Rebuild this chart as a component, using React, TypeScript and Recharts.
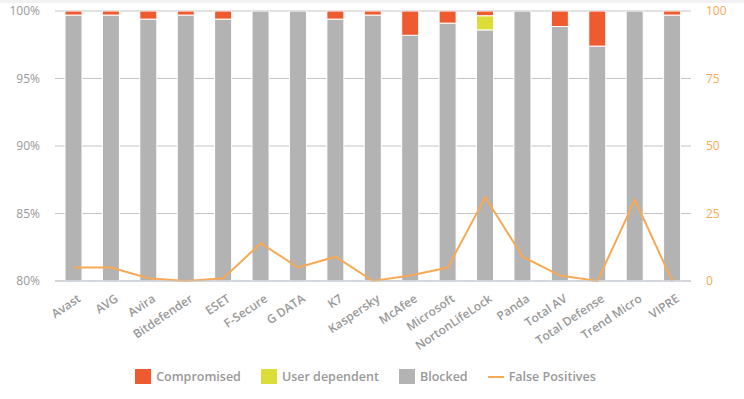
import {
  ComposedChart,
  Bar,
  Line,
  XAxis,
  YAxis,
  CartesianGrid,
  Legend,
} from 'recharts';

// vendors along the x axis
const vendors = [
  'Avast', 'AVG', 'Avira', 'Bitdefender', 'ESET', 'F-Secure', 'G DATA', 'K7',
  'Kaspersky', 'McAfee', 'Microsoft', 'NortonLifeLock', 'Panda', 'Total AV',
  'Total Defense', 'Trend Micro', 'VIPRE',
];

// percentages (left axis)
const blocked = [99.7, 99.7, 99.4, 99.7, 99.4, 100, 100, 99.4, 99.7, 98.2, 99.1, 98.6, 100, 98.85, 97.4, 100, 99.7];
const userDependent = [0, 0, 0, 0, 0, 0, 0, 0, 0, 0, 0, 1.05, 0, 0, 0, 0, 0];
const compromised = [0.3, 0.3, 0.6, 0.3, 0.6, 0, 0, 0.6, 0.3, 1.8, 0.9, 0.35, 0, 1.15, 2.6, 0, 0.3];

// counts (right axis)
const falsePositives = [5, 5, 1, 0, 1, 14, 5, 9, 0, 2, 5, 31, 9, 2, 0, 30, 0];

const leftTicks = [80, 85, 90, 95, 100];
const rightTicks = [0, 25, 50, 75, 100];

const data = vendors.map((name, i) => ({
  name,
  blocked: blocked[i],
  userDependent: userDependent[i],
  compromised: compromised[i],
  falsePositives: falsePositives[i],
}));

const FONT = '"Open Sans", sans-serif';
const C_COMP = '#ef5b30';
const C_USER = '#dcdd38';
const C_BLOCK = '#b3b3b3';
const C_FP = '#f7a955';

function VendorTick({ x, y, payload }: any) {
  return (
    <text
      x={x}
      y={y}
      dy={14}
      textAnchor="end"
      transform={`rotate(-34, ${x}, ${y})`}
      fontSize={12}
      fontWeight={600}
      fill="#999"
      fontFamily={FONT}
    >
      {payload.value}
    </text>
  );
}

const legendItems = [
  { label: 'Compromised', color: C_COMP, kind: 'box' },
  { label: 'User dependent', color: C_USER, kind: 'box' },
  { label: 'Blocked', color: C_BLOCK, kind: 'box' },
  { label: 'False Positives', color: C_FP, kind: 'line' },
];

function ChartLegend() {
  return (
    <div style={{ display: 'flex', justifyContent: 'center', alignItems: 'center', gap: 20, fontFamily: FONT }}>
      {legendItems.map((it) => (
        <div key={it.label} style={{ display: 'flex', alignItems: 'center', gap: 5 }}>
          {it.kind === 'box' ? (
            <span style={{ width: 16, height: 15, background: it.color, display: 'inline-block' }} />
          ) : (
            <span style={{ width: 16, height: 2, background: it.color, display: 'inline-block' }} />
          )}
          <span style={{ fontSize: 12.5, fontWeight: 600, color: '#999' }}>{it.label}</span>
        </div>
      ))}
    </div>
  );
}

export default function App() {
  return (
    <div style={{ position: 'absolute', left: 0, top: 0, width: 744, height: 399, background: '#fff' }}>
      <div style={{ position: 'absolute', left: 0, top: 0, width: 744, height: 3, background: '#f2f2f2' }} />
      <ComposedChart
        width={744}
        height={399}
        data={data}
        margin={{ top: 11, right: 13, left: 0, bottom: 7 }}
        barSize={17}
      >
        <CartesianGrid yAxisId="left" vertical={false} stroke="#c4c4c4" />
        <XAxis
          dataKey="name"
          interval={0}
          tick={<VendorTick />}
          tickLine={false}
          axisLine={{ stroke: '#c5cbd6' }}
          height={87}
        />
        <YAxis
          yAxisId="left"
          width={55}
          domain={[80, 100]}
          ticks={leftTicks}
          allowDataOverflow
          tickFormatter={(v) => `${v}%`}
          tickLine={false}
          axisLine={false}
          tickSize={0}
          tickMargin={15}
          tick={{ fontSize: 12, fill: '#999', fontFamily: FONT }}
        />
        <YAxis
          yAxisId="right"
          orientation="right"
          width={40}
          domain={[0, 100]}
          ticks={rightTicks}
          tickLine={false}
          axisLine={false}
          tickSize={0}
          tickMargin={15}
          tick={{ fontSize: 12, fill: C_FP, fontFamily: FONT, textAnchor: 'start' }}
        />
        <Legend verticalAlign="bottom" height={24} content={<ChartLegend />} />
        <Bar yAxisId="left" dataKey="blocked" stackId="s" fill={C_BLOCK} stroke="#fff" strokeWidth={1} isAnimationActive={false} />
        <Bar yAxisId="left" dataKey="userDependent" stackId="s" fill={C_USER} stroke="#fff" strokeWidth={1} isAnimationActive={false} />
        <Bar yAxisId="left" dataKey="compromised" stackId="s" fill={C_COMP} stroke="#fff" strokeWidth={1} isAnimationActive={false} />
        <Line
          yAxisId="right"
          dataKey="falsePositives"
          stroke={C_FP}
          strokeWidth={2}
          dot={false}
          isAnimationActive={false}
        />
      </ComposedChart>
    </div>
  );
}
